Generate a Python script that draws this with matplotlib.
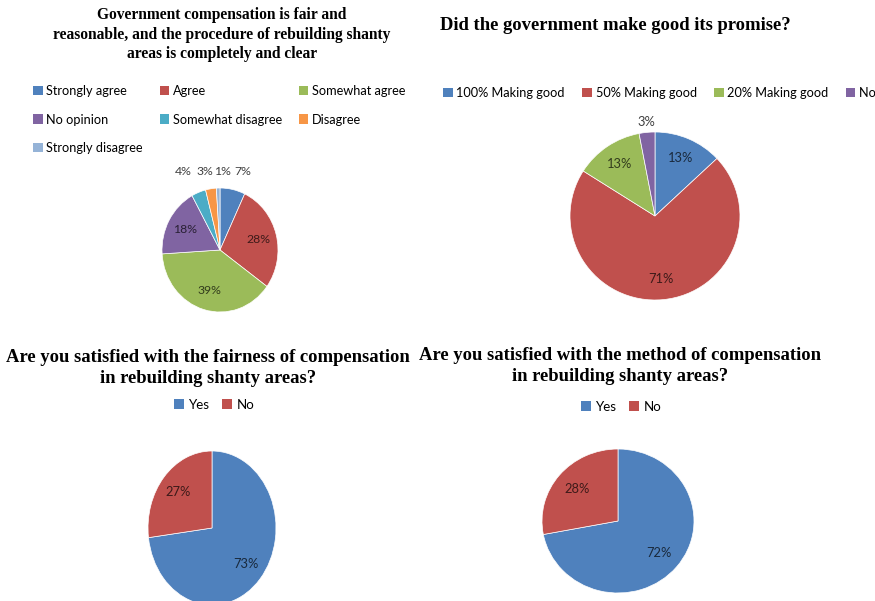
import numpy as np
import matplotlib
matplotlib.use("Agg")
import matplotlib.pyplot as plt
from matplotlib.patches import Patch

# ---- data -------------------------------------------------------------
fair_labels = ["Strongly agree", "Agree", "Somewhat agree", "No opinion",
               "Somewhat disagree", "Disagree", "Strongly disagree"]
fair_values = [7, 28, 39, 18, 4, 3, 1]

promise_labels = ["100% Making good", "50% Making good", "20% Making good",
                  "No-making good"]
promise_values = [13, 71, 13, 3]

yes_no_labels = ["Yes", "No"]
fairness_values = [73, 27]
method_values = [72, 28]

titles = [
    "Government compensation is fair and\nreasonable, and the procedure of rebuilding shanty\nareas is completely and clear",
    "Did the government make good its promise?",
    "Are you satisfied with the fairness of compensation\nin rebuilding shanty areas?",
    "Are you satisfied with the method of compensation\nin rebuilding shanty areas?",
]

# ---- style ------------------------------------------------------------
PALETTE = ["#4F81BD", "#C0504D", "#9BBB59", "#8064A2",
           "#4BACC6", "#F79646", "#95B3D7"]
TITLE_FONT = "Liberation Serif"
LABEL_FONT = "Lato"

W, H = 875, 601
fig = plt.figure(figsize=(W / 100, H / 100), dpi=100)
fig.patch.set_facecolor("white")


def fx(x):
    return x / W


def fy(y):
    return 1 - y / H


def darker(c, f=0.32):
    r, g, b = matplotlib.colors.to_rgb(c)
    return (r * f, g * f, b * f)


def pie_chart(values, cx, cy, rx, ry, pctdist=0.7, small=0, outside=None,
              min_gap=0.0, fontsize=9.3):
    pad = 1.04
    ax = fig.add_axes([fx(cx - rx * pad), fy(cy + ry * pad),
                       2 * rx * pad / W, 2 * ry * pad / H])
    colors = PALETTE[:len(values)]
    wedges, texts, autotexts = ax.pie(
        values, colors=colors, startangle=90, counterclock=False,
        autopct=lambda p: f"{p:.0f}%", pctdistance=pctdist,
        wedgeprops=dict(edgecolor="white", linewidth=0.5),
        textprops=dict(fontfamily=LABEL_FONT, fontsize=fontsize))
    ax.set_aspect("auto")
    ax.set_xlim(-pad, pad)
    ax.set_ylim(-pad, pad)
    ax.axis("off")
    for t, c in zip(autotexts, colors):
        t.set_color(darker(c))
        t.set_clip_on(False)
    if outside is not None:
        # small slices get their labels outside the pie, kept apart
        placed = []
        for v, w, t in zip(values, wedges, autotexts):
            if v <= small:
                mid = np.deg2rad((w.theta1 + w.theta2) / 2)
                placed.append([*outside(mid), t])
        placed.sort(key=lambda p: p[0])
        for i in range(1, len(placed)):
            placed[i][0] = max(placed[i][0], placed[i - 1][0] + min_gap)
        for x, y, t in placed:
            t.set_position((x, y))
            t.set_color("#404040")
    return ax, wedges


def square_handles(colors):
    return [Patch(facecolor=c, edgecolor="none") for c in colors]


def legend_kw(size):
    return dict(frameon=False, prop=dict(family=LABEL_FONT, size=size),
                handlelength=0.75, handleheight=0.75, handletextpad=0.3,
                borderpad=0, borderaxespad=0)


# ---- chart 1 ----------------------------------------------------------
fig.text(fx(222), fy(7), titles[0], ha="center", va="top",
         fontfamily=TITLE_FONT, fontweight="bold", fontsize=11.2,
         linespacing=1.3)
order = [0, 3, 6, 1, 4, 2, 5]
h1 = square_handles(PALETTE)
fig.legend([h1[i] for i in order], [fair_labels[i] for i in order],
           loc="upper left", bbox_to_anchor=(fx(33), fy(85)), ncol=3,
           columnspacing=1.3, labelspacing=1.3, **legend_kw(9.2))
pie_chart(fair_values, 220, 250, 58, 62, pctdist=0.68, small=7,
          outside=lambda a: (1.77 * np.cos(a) + 0.014, 1.26),
          min_gap=0.3, fontsize=8.8)

# ---- chart 2 ----------------------------------------------------------
fig.text(fx(440), fy(25), titles[1], ha="left", va="center",
         fontfamily=TITLE_FONT, fontweight="bold", fontsize=13.4)
fig.legend(square_handles(PALETTE[:4]), promise_labels,
           loc="upper left", bbox_to_anchor=(fx(443), fy(87)), ncol=4,
           columnspacing=1.35, **legend_kw(9.2))
pie_chart(promise_values, 655, 216, 85, 84, pctdist=0.75, small=3,
          outside=lambda a: (1.12 * np.cos(a), 1.12 * np.sin(a)))

# ---- chart 3 ----------------------------------------------------------
fig.text(fx(208), fy(349), titles[2], ha="center", va="top",
         fontfamily=TITLE_FONT, fontweight="bold", fontsize=13.4,
         linespacing=1.3)
fig.legend(square_handles(PALETTE[:2]), yes_no_labels,
           loc="upper center", bbox_to_anchor=(fx(214), fy(399)), ncol=2,
           columnspacing=1.0, **legend_kw(9.6))
pie_chart(fairness_values, 212, 528, 64, 77, pctdist=0.7)

# ---- chart 4 ----------------------------------------------------------
fig.text(fx(620), fy(347), titles[3], ha="center", va="top",
         fontfamily=TITLE_FONT, fontweight="bold", fontsize=13.4,
         linespacing=1.3)
fig.legend(square_handles(PALETTE[:2]), yes_no_labels,
           loc="upper center", bbox_to_anchor=(fx(621), fy(401)), ncol=2,
           columnspacing=1.0, **legend_kw(9.6))
pie_chart(method_values, 618, 521, 76, 72, pctdist=0.7)

fig.savefig("out.png", dpi=100)
